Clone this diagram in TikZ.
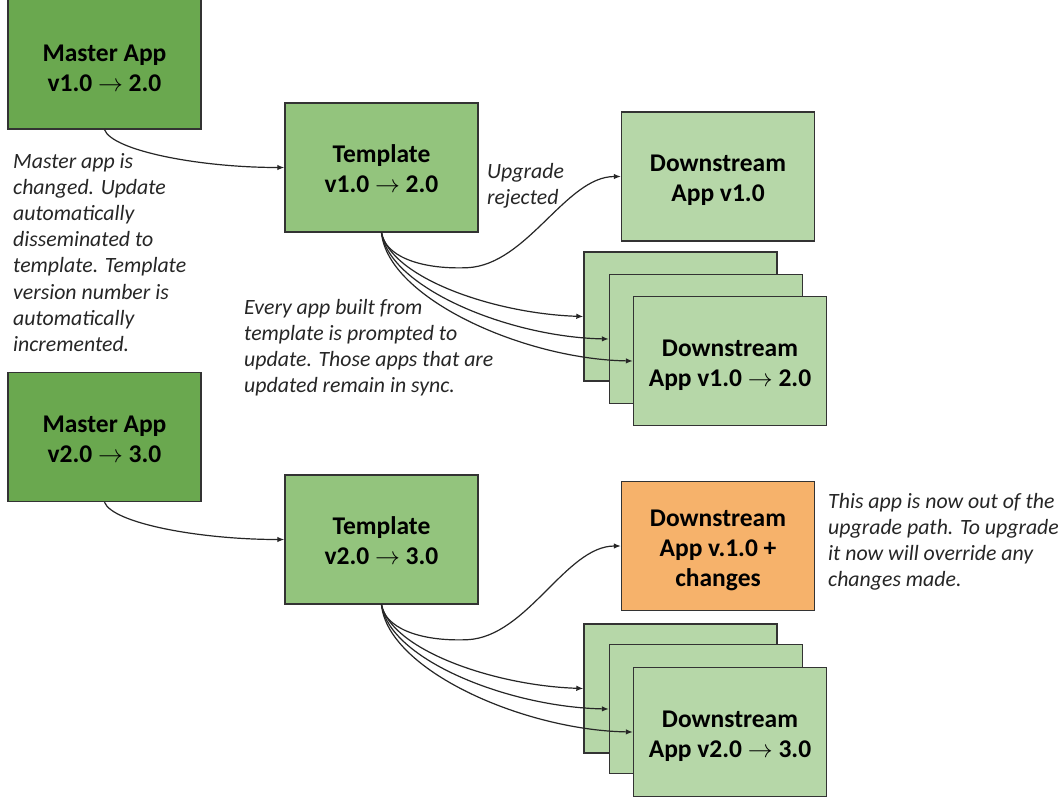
\documentclass[tikz,border=0pt]{standalone}
\usepackage{fontspec}
\setmainfont{Carlito}
\usetikzlibrary{arrows.meta}

\definecolor{masterfill}{HTML}{6AA84F}
\definecolor{templatefill}{HTML}{93C47D}
\definecolor{downfill}{HTML}{B6D7A8}
\definecolor{forkfill}{HTML}{F6B26B}
\definecolor{boxline}{HTML}{333333}
\definecolor{notegray}{HTML}{262626}

% centred box lines, set a little below the box centre
\newcommand\boxlines[2][4pt]{\raisebox{-#1}[\height][\depth]{\begin{tabular}{@{}c@{}}#2\end{tabular}}}

\tikzset{
  appbox/.style={draw=boxline, line width=1.4pt, minimum width=193pt,
    minimum height=129pt, inner sep=0pt,
    font=\fontsize{25.5}{30}\selectfont\bfseries},
  masterbox/.style={appbox, fill=masterfill},
  templatebox/.style={appbox, fill=templatefill},
  downbox/.style={appbox, fill=downfill},
  forkbox/.style={appbox, fill=forkfill},
  note/.style={font=\fontsize{21.8}{26.2}\selectfont\itshape, text=notegray,
    align=left, inner sep=0pt, anchor=base west},
  link/.style={draw=black!85, line width=1.2pt,
    -{Latex[length=7pt,width=5.5pt]}},
}

\begin{document}
\begin{tikzpicture}[x=1pt,y=-1pt]
\useasboundingbox (0,0) rectangle (1064,796);
\clip (0,0) rectangle (1064,796);
\fill[white] (0,0) rectangle (1064,796);

% ---- first release: v1.0 -> 2.0 ----
\node[masterbox, minimum height=137pt] (m1) at (104.5,60.5)
  {\boxlines[9.5pt]{Master App\\v1.0 $\rightarrow$ 2.0}};
\node[templatebox] (t1) at (381.5,167.5) {\boxlines{Template\\v1.0 $\rightarrow$ 2.0}};
\node[downbox]     (d1) at (718,176.5) {\boxlines{Downstream\\App v1.0}};
\node[downbox]     (s1a) at (680.5,316.5) {};
\node[downbox]     (s1b) at (706,339) {};
\node[downbox]     (s1c) at (730,361) {\boxlines{Downstream\\App v1.0 $\rightarrow$ 2.0}};

\node[note] (n1) at (13,351.4) {Master app is\\changed. Update\\automatically\\disseminated to\\template. Template\\version number is\\automatically\\incremented.};
\node[note] (n2) at (487,204.2) {Upgrade\\rejected};
\node[note] (n3) at (244,392.6) {Every app built from\\template is prompted to\\update. Those apps that are\\updated remain in sync.};

\draw[link] (m1.south) .. controls +(8,21) and +(-85,0) .. (t1.west);
\draw[link] (t1.south) .. controls +(3,22) and +(-50,2) .. +(86,35)
            .. controls +(60,-3) and +(-55,0) .. (d1.west);
\draw[link] (t1.south) .. controls +(10,45) and +(-90,-3) .. (s1a.west);
\draw[link] (t1.south) .. controls +(8,55) and +(-100,-2) .. (s1b.west);
\draw[link] (t1.south) .. controls +(6,65) and +(-110,-2) .. (s1c.west);

% ---- second release: v2.0 -> 3.0 ----
\node[masterbox]   (m2) at (104.5,437) {\boxlines{Master App\\v2.0 $\rightarrow$ 3.0}};
\node[templatebox] (t2) at (381.5,539.5) {\boxlines{Template\\v2.0 $\rightarrow$ 3.0}};
\node[forkbox]     (d2) at (718,546) {\boxlines{Downstream\\App v.1.0 +\\changes}};
\node[downbox]     (s2a) at (680.5,688.5) {};
\node[downbox]     (s2b) at (706,709) {};
\node[downbox]     (s2c) at (730,732) {\boxlines{Downstream\\App v2.0 $\rightarrow$ 3.0}};

\node[note] (n4) at (828,586.6) {This app is now out of the\\upgrade path. To upgrade\\it now will override any\\changes made.};

\draw[link] (m2.south) .. controls +(8,21) and +(-85,0) .. (t2.west);
\draw[link] (t2.south) .. controls +(3,22) and +(-50,2) .. +(86,35)
            .. controls +(60,-3) and +(-55,0) .. (d2.west);
\draw[link] (t2.south) .. controls +(10,45) and +(-90,-3) .. (s2a.west);
\draw[link] (t2.south) .. controls +(8,55) and +(-100,-2) .. (s2b.west);
\draw[link] (t2.south) .. controls +(6,65) and +(-110,-2) .. (s2c.west);
\end{tikzpicture}
\end{document}
